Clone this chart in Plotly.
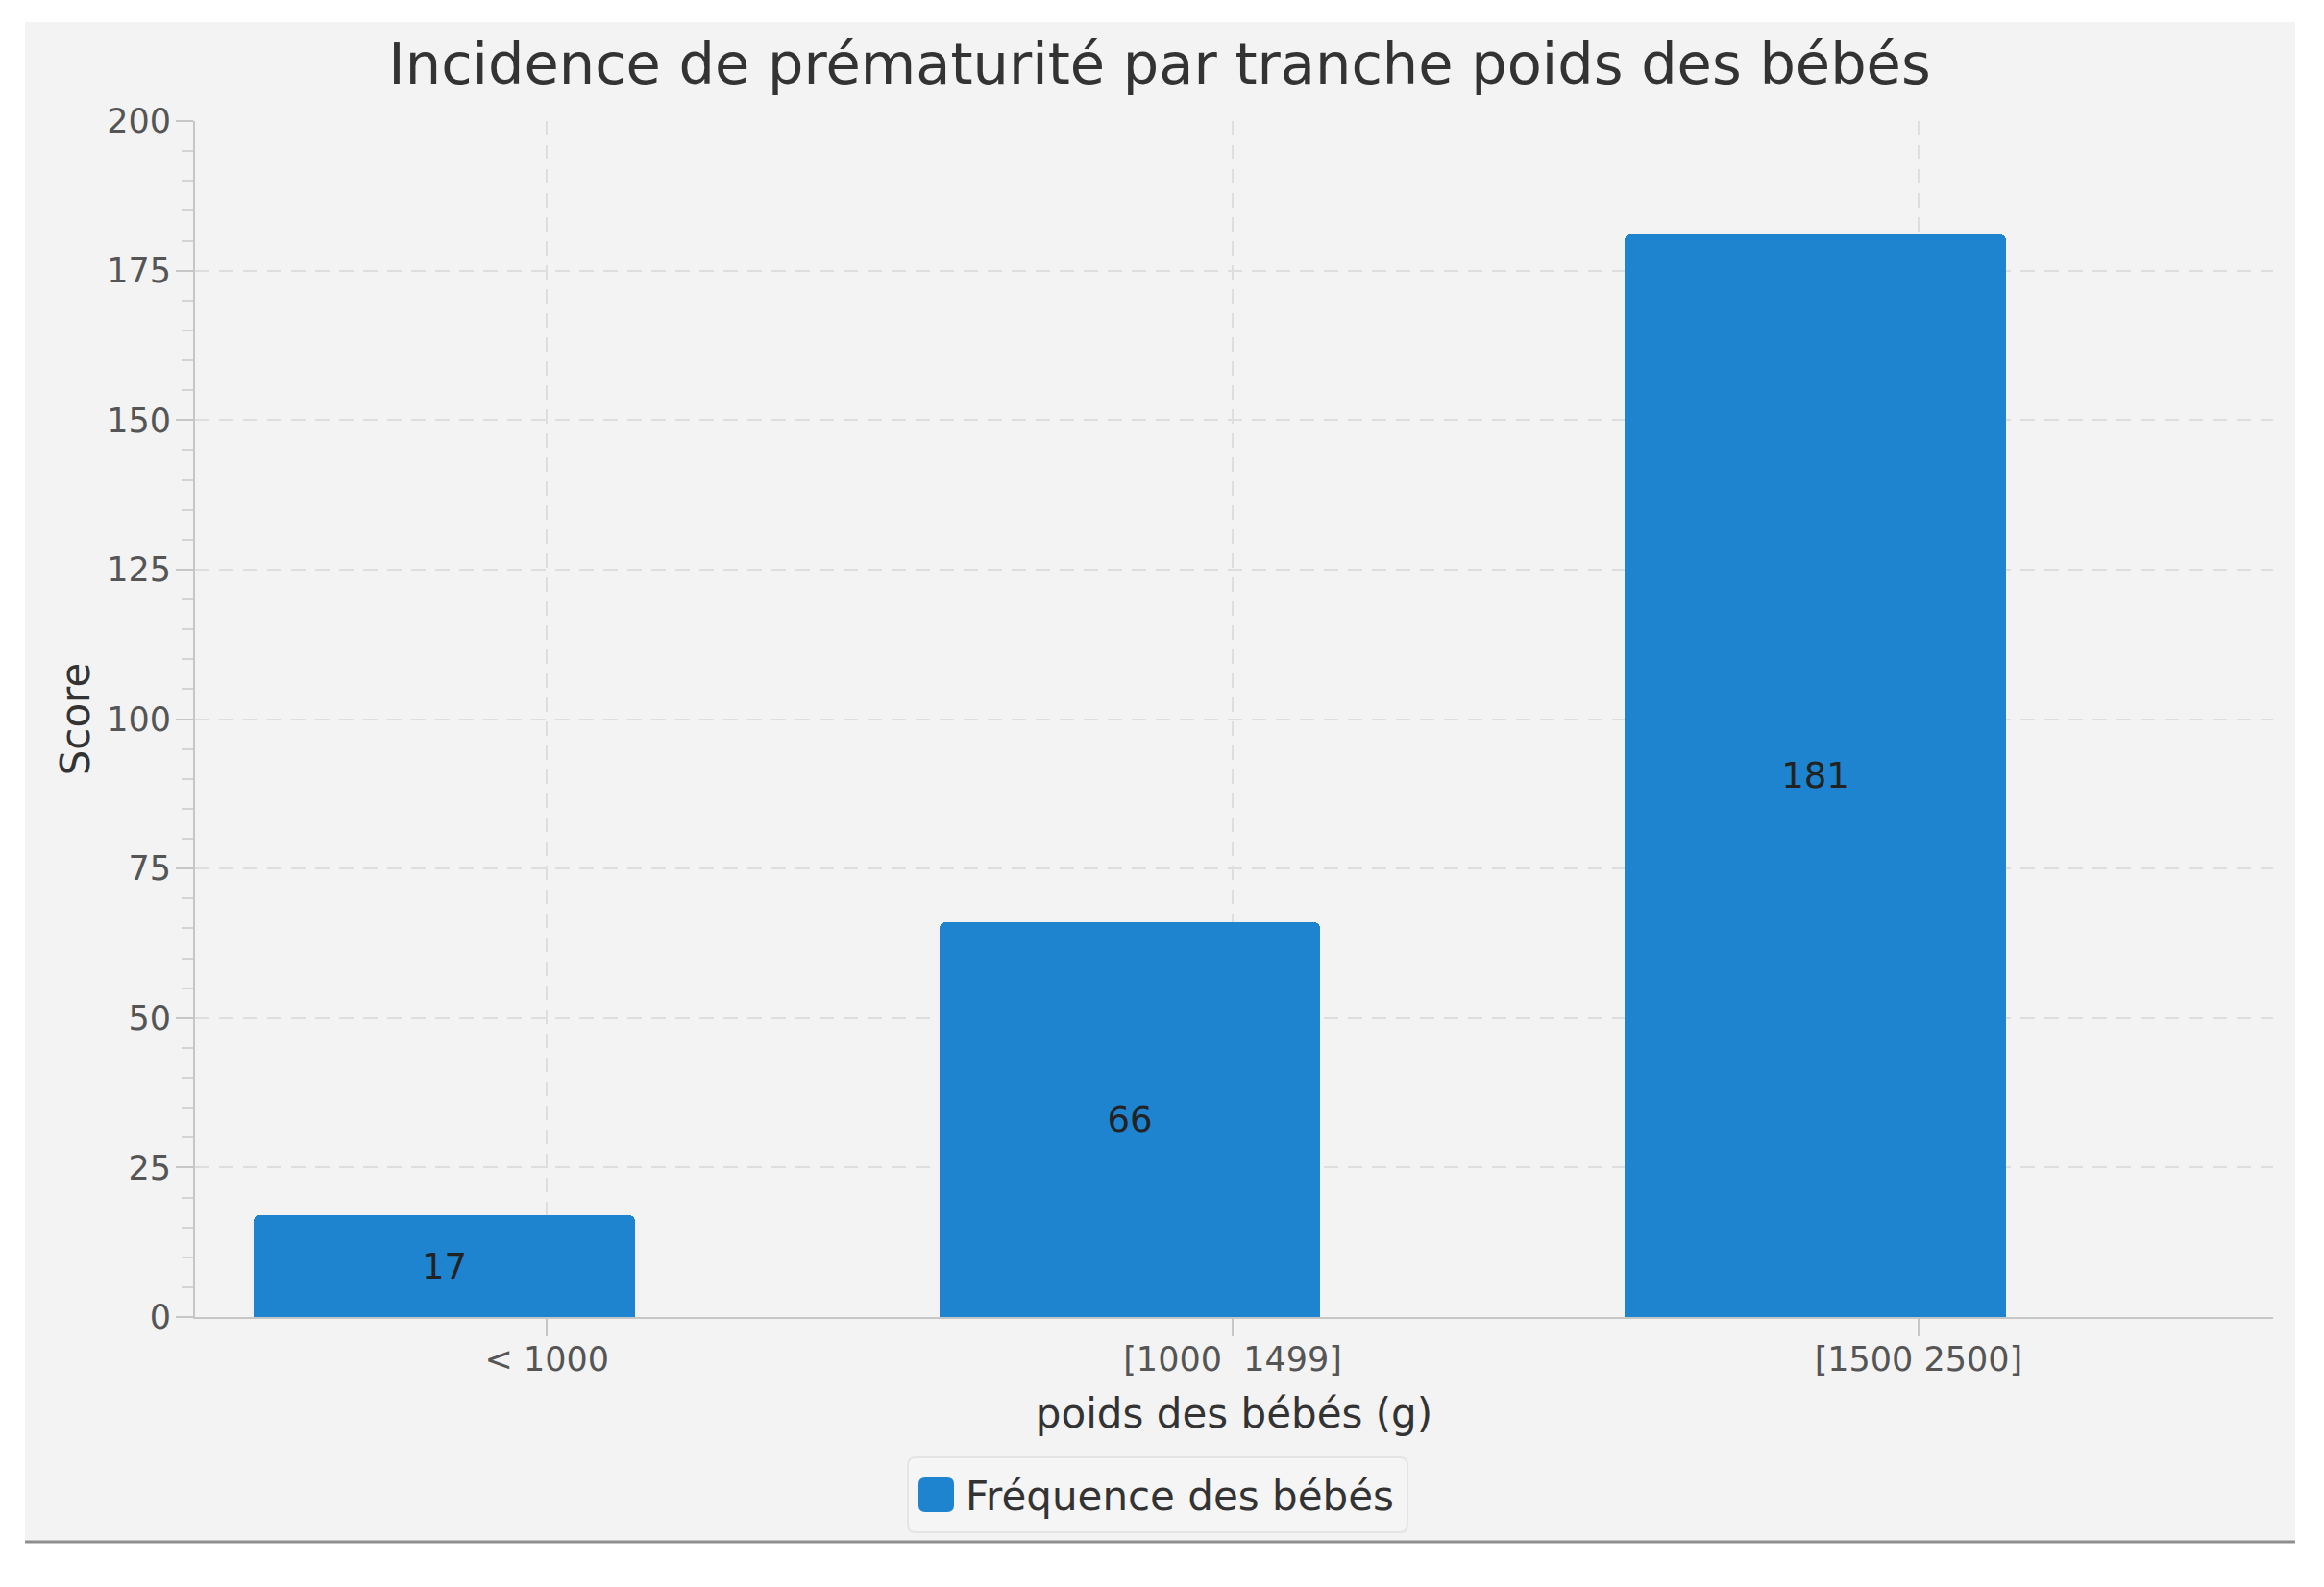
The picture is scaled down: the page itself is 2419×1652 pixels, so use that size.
import plotly.graph_objects as go

# ---- data ----
categories = ["< 1000", "[1000\u00a0 1499]", "[1500 2500]"]
frequences = [17, 66, 181]
series_name = "Fréquence des bébés"
chart_title = "Incidence de prématurité par tranche poids des bébés"
x_title = "poids des bébés (g)"
y_title = "Score"

# ---- geometry (pixels, in reference-image coordinates) ----
W, H = 2419, 1652
OFF = 8  # page body margin
PLOT_L, PLOT_R, PLOT_T, PLOT_B = 203, 2366, 126, 1371
L = PLOT_L - OFF
T = PLOT_T - OFF
R = W - (PLOT_R - OFF)
B = H - (PLOT_B - OFF)
PW, PH = PLOT_R - PLOT_L, PLOT_B - PLOT_T


def px(x):
    return (x - PLOT_L) / PW


def py(y):
    return (PLOT_B - y) / PH


BAR_COLOR = "#1e84cf"
PANEL = "#f3f3f3"
AXIS = "#c6c6c6"
GRID = "#dedede"
FONT = "DejaVu Sans"


def rounded_rect(x0, y0, x1, y1, r):
    pts = [
        f"M{px(x0 + r)},{py(y0)}",
        f"L{px(x1 - r)},{py(y0)}",
        f"Q{px(x1)},{py(y0)} {px(x1)},{py(y0 + r)}",
        f"L{px(x1)},{py(y1 - r)}",
        f"Q{px(x1)},{py(y1)} {px(x1 - r)},{py(y1)}",
        f"L{px(x0 + r)},{py(y1)}",
        f"Q{px(x0)},{py(y1)} {px(x0)},{py(y1 - r)}",
        f"L{px(x0)},{py(y0 + r)}",
        f"Q{px(x0)},{py(y0)} {px(x0 + r)},{py(y0)}",
        "Z",
    ]
    return " ".join(pts)


fig = go.Figure()
fig.add_trace(
    go.Bar(
        x=categories,
        y=frequences,
        name=series_name,
        width=0.556,
        offset=-0.428,
        marker=dict(color=BAR_COLOR, line=dict(width=0), cornerradius=6),
        text=[str(v) for v in frequences],
        textposition="inside",
        insidetextanchor="middle",
        textangle=0,
        textfont=dict(family=FONT, size=37, color="#222222"),
        showlegend=False,
        hoverinfo="x+y",
    )
)

shapes = [
    dict(type="rect", xref="paper", yref="paper", layer="below",
         x0=px(26), x1=px(2389), y0=py(1605), y1=py(23),
         fillcolor=PANEL, line=dict(width=0)),
    dict(type="line", xref="paper", yref="paper", layer="above",
         x0=px(26), x1=px(2389), y0=py(1605), y1=py(1605),
         line=dict(color="#8e8e8e", width=3)),
    dict(type="line", xref="paper", yref="paper", layer="above",
         x0=px(185), x1=px(203), y0=0, y1=0,
         line=dict(color=AXIS, width=2)),
    dict(type="path", xref="paper", yref="paper", layer="above",
         path=rounded_rect(945, 1517, 1465, 1595, 8),
         fillcolor="#f5f5f5", line=dict(color="#e4e4e4", width=2)),
    dict(type="path", xref="paper", yref="paper", layer="above",
         path=rounded_rect(956, 1538, 993, 1574, 7),
         fillcolor=BAR_COLOR, line=dict(width=0)),
]

annotations = [
    dict(text=series_name, xref="paper", yref="paper",
         x=px(1003), y=py(1557), xanchor="left", yanchor="middle",
         showarrow=False, font=dict(family=FONT, size=42, color="#333333")),
]

fig.update_layout(
    width=W,
    height=H,
    margin=dict(l=L, r=R, t=T, b=B, pad=0),
    paper_bgcolor="white",
    plot_bgcolor=PANEL,
    font=dict(family=FONT, color="#555555"),
    title=dict(text=chart_title, x=(1207 - OFF) / W, xanchor="center", xref="container",
               y=1 - (66 - OFF) / H, yref="container", yanchor="middle",
               font=dict(family=FONT, size=59, color="#333333")),
    bargap=0,
    shapes=shapes,
    annotations=annotations,
    showlegend=False,
    xaxis=dict(
        type="category",
        range=[-0.513, 2.517],
        showline=True, linecolor=AXIS, linewidth=2,
        ticks="outside", ticklen=18, tickwidth=2, tickcolor=AXIS,
        ticklabelstandoff=-6,
        showgrid=True, gridcolor=GRID, gridwidth=2, griddash="15px,10px",
        tickfont=dict(family=FONT, size=35, color="#555555"),
        title=dict(text=x_title, standoff=23,
                   font=dict(family=FONT, size=42, color="#333333")),
        zeroline=False,
        fixedrange=True,
    ),
    yaxis=dict(
        range=[0, 200],
        dtick=25,
        showline=True, linecolor=AXIS, linewidth=2,
        ticks="outside", ticklen=18, tickwidth=2, tickcolor=AXIS,
        ticklabelstandoff=-2,
        minor=dict(dtick=5, ticks="outside", ticklen=12, tickwidth=2,
                   tickcolor="#d4d4d4", showgrid=False),
        showgrid=True, gridcolor=GRID, gridwidth=2, griddash="15px,10px",
        tickfont=dict(family=FONT, size=35, color="#555555"),
        title=dict(text=y_title, standoff=4,
                   font=dict(family=FONT, size=42, color="#333333")),
        zeroline=False,
        fixedrange=True,
    ),
)

fig.write_html("out.html")
